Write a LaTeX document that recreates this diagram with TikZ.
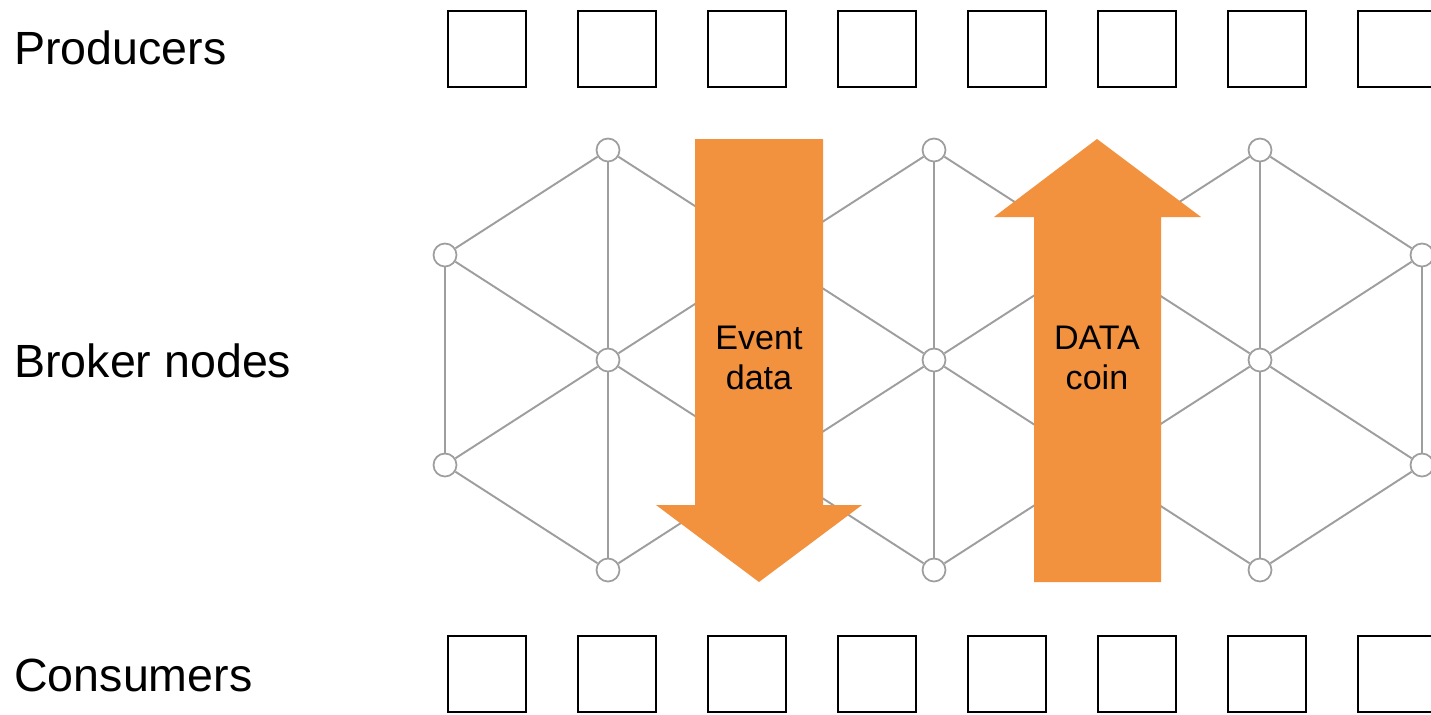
\documentclass[tikz,border=0pt]{standalone}
\usepackage{fontspec}
\setmainfont{Liberation Sans}
\definecolor{flow}{RGB}{242,145,62}
\definecolor{mesh}{RGB}{158,158,158}

\begin{document}
\begin{tikzpicture}[x=0.02cm, y=-0.02cm,
  client/.style={draw, line width=1.6pt, minimum width=1.56cm, minimum height=1.52cm, inner sep=0pt},
  broker/.style={circle, draw=mesh, fill=white, line width=1pt, minimum size=0.46cm, inner sep=0pt},
  link/.style={draw=mesh, line width=1.1pt},
  tier/.style={anchor=base west, inner sep=0pt, font=\fontsize{26.5}{30}\selectfont},
  flowtext/.style={align=center, inner sep=0pt, font=\fontsize{19.4}{22.8}\selectfont}]
  \useasboundingbox (0,0) rectangle (1431,714);
  \clip (0,0) rectangle (1431,714);

  % --- Lagnavne ---
  \node[tier] (producers) at (14,64)  {Producers};
  \node[tier] (brokers)   at (14,377) {Broker nodes};
  \node[tier] (consumers) at (14,691) {Consumers};

  % --- Producenter og forbrugere ---
  \foreach \k in {0,...,7} {
    \node[client] (p\k) at (487+130*\k,49)  {};
    \node[client] (q\k) at (487+130*\k,674) {};
  }

  % --- Broker-net ---
  \foreach \i/\x in {0/445,1/771,2/1097,3/1422} {
    \node[broker] (u\i) at (\x,255) {};
    \node[broker] (l\i) at (\x,465) {};
  }
  \foreach \i/\x in {1/608,2/934,3/1260} {
    \node[broker] (t\i) at (\x,150) {};
    \node[broker] (c\i) at (\x,360) {};
    \node[broker] (b\i) at (\x,570) {};
  }
  \foreach \j in {0,...,3}
    \draw[link] (u\j) -- (l\j);
  \foreach \p/\i in {0/1,1/2,2/3} {
    \draw[link] (u\p) -- (t\i) -- (u\i);
    \draw[link] (l\p) -- (b\i) -- (l\i);
    \draw[link] (c\i) -- (t\i);
    \draw[link] (c\i) -- (b\i);
    \draw[link] (c\i) -- (u\p);
    \draw[link] (c\i) -- (u\i);
    \draw[link] (c\i) -- (l\p);
    \draw[link] (c\i) -- (l\i);
  }

  % --- Pile ---
  \fill[flow] (695,139) -- (823,139) -- (823,505) -- (862,505) -- (759,582)
              -- (656,505) -- (695,505) -- cycle;
  \node[flowtext] (event) at (759,358) {Event\\data};
  \fill[flow] (1034,582) -- (1161,582) -- (1161,217) -- (1201,217) -- (1097,139)
              -- (994,217) -- (1034,217) -- cycle;
  \node[flowtext] (coin) at (1097,358) {DATA\\coin};
\end{tikzpicture}
\end{document}
